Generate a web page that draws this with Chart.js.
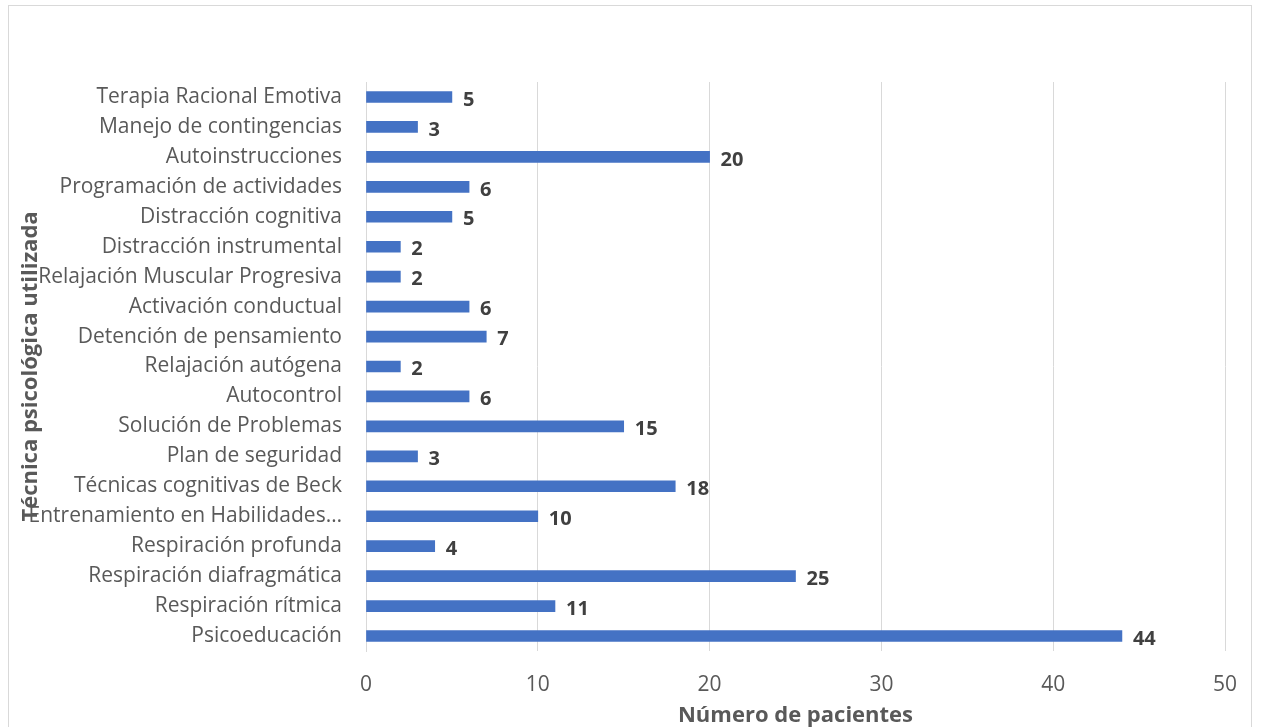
<!DOCTYPE html>
<html>
<head>
<meta charset="utf-8">
<script src="https://cdn.jsdelivr.net/npm/chart.js@4"></script>
<style>
  body { margin: 0; background: #fff; overflow: hidden; }
  #box { position: absolute; left: 8px; top: 5px; width: 1242px; height: 730px; border: 1px solid #d9d9d9; }
</style>
</head>
<body>
<div id="box"><canvas id="myChart" width="1242" height="730"></canvas></div>
<script>
// técnicas y número de pacientes (de arriba a abajo)
const tecnicas = [
  "Terapia Racional Emotiva", "Manejo de contingencias", "Autoinstrucciones",
  "Programación de actividades", "Distracción cognitiva", "Distracción instrumental",
  "Relajación Muscular Progresiva", "Activación conductual", "Detención de pensamiento",
  "Relajación autógena", "Autocontrol", "Solución de Problemas", "Plan de seguridad",
  "Técnicas cognitivas de Beck", "Entrenamiento en Habilidades…", "Respiración profunda",
  "Respiración diafragmática", "Respiración rítmica", "Psicoeducación"
];
const pacientes = [5, 3, 20, 6, 5, 2, 2, 6, 7, 2, 6, 15, 3, 18, 10, 4, 25, 11, 44];
const xTicks = [0, 10, 20, 30, 40, 50];

const fontFam = "'Open Sans', sans-serif";

// etiquetas de valor al final de cada barra
const valueLabels = {
  id: 'valueLabels',
  afterDatasetsDraw(chart) {
    const ctx = chart.ctx;
    const meta = chart.getDatasetMeta(0);
    ctx.save();
    ctx.font = "bold 20px " + fontFam;
    ctx.fillStyle = '#404040';
    ctx.textBaseline = 'middle';
    ctx.textAlign = 'left';
    meta.data.forEach((bar, i) => {
      ctx.fillText(pacientes[i], bar.x + 11, bar.y + 3);
    });
    ctx.restore();
  }
};

var ctx = document.getElementById('myChart').getContext('2d');

const myChart = new Chart(ctx, {
  type: 'bar',
  data: {
    labels: tecnicas,
    datasets: [{
      data: pacientes,
      backgroundColor: '#4472C4',
      barThickness: 11
    }]
  },
  options: {
    indexAxis: 'y',
    responsive: false,
    animation: false,
    layout: { padding: { top: 76, right: 26, left: 0, bottom: 0 } },
    plugins: { legend: { display: false }, tooltip: { enabled: false } },
    scales: {
      x: {
        min: 0, max: 50,
        afterBuildTicks: (scale) => { scale.ticks = xTicks.map(v => ({ value: v })); },
        afterFit: (scale) => {
          scale.height = 85;
          scale.paddingLeft = 0;
          scale.paddingRight = 0;
        },
        grid: { color: '#d9d9d9', drawTicks: false, lineWidth: 1 },
        border: { display: false },
        ticks: { color: '#595959', font: { family: fontFam, size: 21 }, padding: 21 },
        title: {
          display: true, text: 'Número de pacientes', color: '#595959',
          font: { family: fontFam, size: 22, weight: 'bold' }, padding: { top: 0, bottom: 7 }
        }
      },
      y: {
        afterFit: (scale) => { scale.width = 357; },
        grid: { display: false, drawTicks: false },
        border: { display: true, color: '#d9d9d9' },
        ticks: { color: '#595959', font: { family: fontFam, size: 21 }, padding: 24, autoSkip: false },
        title: {
          display: true, text: 'Técnica psicológica utilizada', color: '#595959',
          font: { family: fontFam, size: 22, weight: 'bold' }, padding: 9
        }
      }
    }
  },
  plugins: [valueLabels]
});
</script>
</body>
</html>
